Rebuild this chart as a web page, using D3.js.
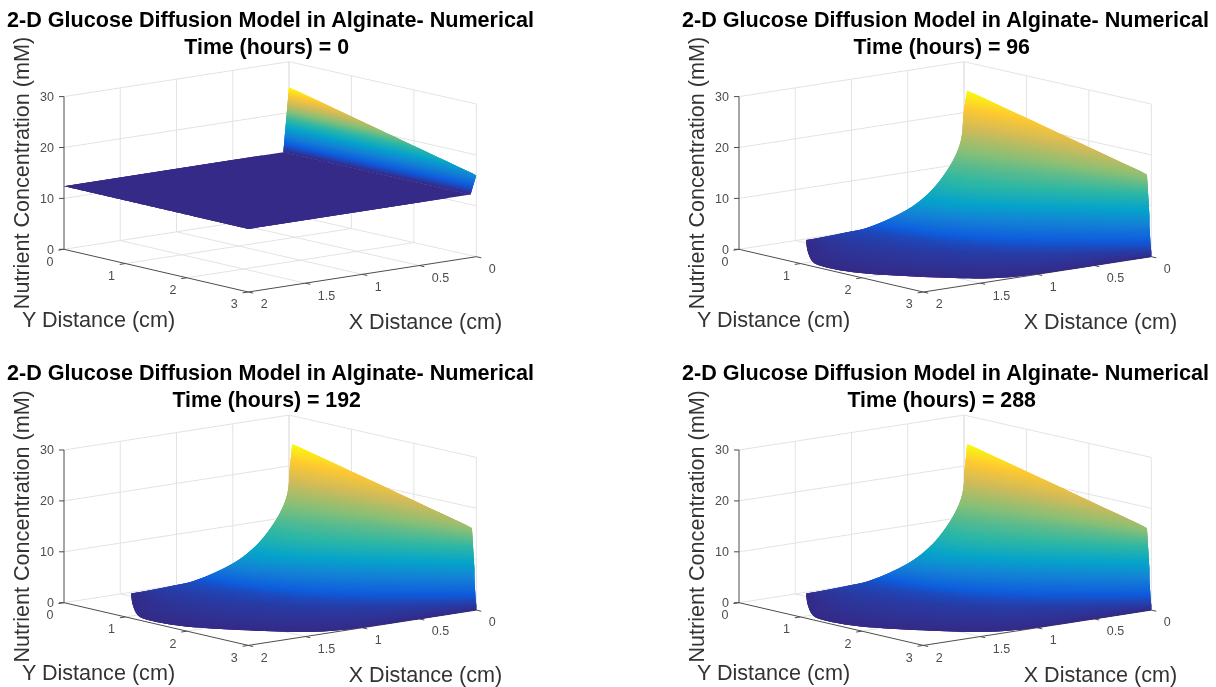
<!DOCTYPE html>
<html>
<head>
<meta charset="utf-8">
<script src="https://cdn.jsdelivr.net/npm/d3@7"></script>
<style>
  html, body { margin: 0; background: #fff; }
  svg { display: block; filter: blur(0.35px); }
  text { font-family: "Liberation Sans", Arial, sans-serif; }
</style>
</head>
<body>
<svg id="chart" width="1216" height="687"></svg>
<script>
const titleText = "2-D Glucose Diffusion Model in Alginate- Numerical";
const hours = [0, 96, 192, 288];

const xTicks = [0, 0.5, 1, 1.5, 2];
const yTicks = [0, 1, 2, 3];
const zTicks = [0, 10, 20, 30];

const parula = ["#352a87", "#0f5cdd", "#1481d6", "#06a4ca", "#2eb7a4", "#87bf77", "#d1bb59", "#fec832", "#f9fb0e"];

// iso-concentration lines read off the surfaces: one level per line,
// then the x and y (cm) of the stations along that line
const levels0 = [25, 23, 21, 19, 17, 16, 15, 14, 13, 12.4, 12.4];
const contourX0 = [
    [0, 0], [0.008, 0], [0.016, 0], [0.024, 0], [0.032, 0], [0.036, 0],
    [0.04, 0.014], [0.044, 0.028], [0.048, 0.042], [0.05, 0.05], [2, 2]
];
const contourY0 = [
    [0, 0], [0, 0.667], [0, 1.333], [0, 2], [0, 2.667], [0, 3],
    [0, 3], [0, 3], [0, 3], [0, 3], [0, 3]
];

const levels96 = [24.5, 22, 20, 18, 16, 14, 12, 10, 8, 6, 4, 2, 1, 0];
const contourX96 = [
    [0, 0], [0.057, 0], [0.108, 0], [0.175, 0], [0.299, 0], [0.498, 0],
    [0.743, 0.754, 0], [0.867, 0.82, 0], [1.0, 0.839, 0], [1.04, 0.858, 0],
    [1.079, 0.924, 0], [1.066, 0.99, 0],
    [1.379, 1.266, 1.104, 0],
    [1.43, 1.58, 1.72, 1.93, 1.96, 1.94, 1.67, 1.46, 1.24, 0.62, 0]
];
const contourY96 = [
    [0.05, 0.05], [0.112, 0.9], [0.178, 1.58], [0.296, 2.25], [0.483, 2.93], [0.721, 2.94],
    [0.972, 1.455, 2.95], [1.018, 1.574, 2.96], [1.019, 1.608, 2.97], [0.85, 1.643, 2.97],
    [0.648, 1.761, 2.98], [0.368, 1.88, 2.99],
    [0.258, 0.824, 2.086, 3],
    [0.05, 0.33, 0.61, 1.06, 1.28, 1.78, 2.35, 2.73, 3, 3, 3]
];

const levels192 = [24.5, 22, 20, 18, 16, 14, 12, 10, 8, 6, 4, 2, 1, 0];
const contourX192 = [
    [0, 0], [0.05, 0], [0.1, 0], [0.166, 0], [0.29, 0], [0.489, 0],
    [0.734, 0.754, 0], [0.858, 0.82, 0], [0.991, 0.839, 0], [1.031, 0.858, 0],
    [1.07, 0.924, 0], [1.06, 0.99, 0],
    [1.375, 1.266, 1.104, 0],
    [1.43, 1.58, 1.72, 1.93, 1.96, 1.94, 1.67, 1.46, 1.24, 0.62, 0]
];
const contourY192 = [
    [0.05, 0.05], [0.12, 0.9], [0.185, 1.58], [0.303, 2.25], [0.49, 2.93], [0.728, 2.94],
    [0.979, 1.455, 2.95], [1.025, 1.574, 2.96], [1.026, 1.608, 2.97], [0.857, 1.643, 2.97],
    [0.655, 1.761, 2.98], [0.375, 1.88, 2.99],
    [0.262, 0.824, 2.086, 3],
    [0.05, 0.33, 0.61, 1.06, 1.28, 1.78, 2.35, 2.73, 3, 3, 3]
];

const levels288 = levels192;
const contourX288 = contourX192;
const contourY288 = contourY192;

const surfaces = [
    { levels: levels0, xs: contourX0, ys: contourY0 },
    { levels: levels96, xs: contourX96, ys: contourY96 },
    { levels: levels192, xs: contourX192, ys: contourY192 },
    { levels: levels288, xs: contourX288, ys: contourY288 }
];

const svg = d3.select("#chart");

// the floor of the box is a slightly skewed quad, so y is scaled along its two long edges
const backToRightX = d3.scaleLinear().domain([0, 3]).range([289, 476.3]);
const backToRightY = d3.scaleLinear().domain([0, 3]).range([214.4, 256.7]);
const leftToFrontX = d3.scaleLinear().domain([0, 3]).range([64, 248.3]);
const leftToFrontY = d3.scaleLinear().domain([0, 3]).range([249.3, 292]);
const zOffset = d3.scaleLinear().domain([0, 30]).range([0, -152.7]);

function project(x, y, z) {
    const px = d3.scaleLinear().domain([0, 2]).range([backToRightX(y), leftToFrontX(y)]);
    const py = d3.scaleLinear().domain([0, 2]).range([backToRightY(y), leftToFrontY(y)]);
    return [px(x), py(x) + zOffset(z)];
}

const pathLine = d3.line();
const colorScale = d3.scaleSequential(d3.piecewise(d3.interpolateRgb, parula));

function segment(group, from, to, color, width) {
    group.append("path")
        .attr("d", pathLine([project(...from), project(...to)]))
        .attr("fill", "none")
        .attr("stroke", color)
        .attr("stroke-width", width);
}

function drawBox(group) {
    const gridColor = "#e3e3e3";
    const axisColor = "#4d4d4d";

    xTicks.forEach(x => {
        if (x !== 0 && x !== 2) segment(group, [x, 0, 0], [x, 3, 0], gridColor, 1);
        if (x !== 2) segment(group, [x, 0, 0], [x, 0, 30], gridColor, 1);
    });
    yTicks.forEach(y => {
        if (y !== 0 && y !== 3) segment(group, [0, y, 0], [2, y, 0], gridColor, 1);
        segment(group, [0, y, 0], [0, y, 30], gridColor, 1);
    });
    zTicks.forEach(z => {
        if (z === 0) return;
        segment(group, [2, 0, z], [0, 0, z], gridColor, 1);
        segment(group, [0, 0, z], [0, 3, z], gridColor, 1);
    });
    segment(group, [0, 0, 0], [2, 0, 0], gridColor, 1);
    segment(group, [0, 0, 0], [0, 3, 0], gridColor, 1);

    segment(group, [2, 0, 0], [2, 0, 30], axisColor, 1);
    segment(group, [2, 0, 0], [2, 3, 0], axisColor, 1);
    segment(group, [2, 3, 0], [0, 3, 0], axisColor, 1);

    zTicks.forEach(z => {
        const p = project(2, 0, z);
        group.append("path").attr("d", pathLine([p, [p[0] - 5, p[1]]])).attr("stroke", axisColor).attr("fill", "none");
        tickLabel(group, z, p[0] - 10, p[1], "end");
    });
    yTicks.forEach(y => {
        segment(group, [2, y, 0], [2.05, y, 0], axisColor, 1);
        const p = project(2, y, 0);
        tickLabel(group, y, p[0] - 14, p[1] + 12, "middle");
    });
    xTicks.forEach(x => {
        segment(group, [x, 3, 0], [x, 3.08, 0], axisColor, 1);
        const p = project(x, 3, 0);
        tickLabel(group, x, p[0] + 12.5, p[1] + 12, "start");
    });
}

function tickLabel(group, value, x, y, anchor) {
    group.append("text")
        .attr("x", x)
        .attr("y", y)
        .attr("dy", "0.35em")
        .attr("text-anchor", anchor)
        .attr("font-size", "12.5px")
        .attr("fill", "#4d4d4d")
        .text(value);
}

// one run of contours. the left half is smoothed across the lines so the silhouette
// stays round, the right half stays straight so the corner of the top edge stays sharp
function drawRun(group, levels, xs, ys) {
    const sampleCount = 64;
    const stripCount = (levels.length - 1) * 10;
    const lastIndex = levels.length - 1;
    const zAt = d3.scaleLinear().domain(levels.map((d, i) => i / lastIndex)).range(levels);

    const lineX = xs.map(d3.interpolateBasis);
    const lineY = ys.map(d3.interpolateBasis);
    const across = values => {
        const smooth = d3.interpolateBasis(values);
        const straight = d3.scaleLinear().domain(values.map((d, i) => i / lastIndex)).range(values);
        return (v, weight) => smooth(v) * (1 - weight) + straight(v) * weight;
    };
    const columns = d3.range(sampleCount + 1).map(k => {
        const u = k / sampleCount;
        return {
            weight: Math.min(1, u * 2),
            xAt: across(lineX.map(f => f(u))),
            yAt: across(lineY.map(f => f(u)))
        };
    });
    const edge = v => columns.map(c => project(c.xAt(v, c.weight), c.yAt(v, c.weight), zAt(v)));

    // each strip reaches under the next one, which paints over it: no seams to show
    d3.range(stripCount).forEach(i => {
        const a = i / stripCount;
        const b = Math.min(1, (i + 3) / stripCount);
        const color = colorScale(zAt((i + 0.5) / stripCount));
        group.append("path")
            .attr("d", pathLine(edge(a).concat(edge(b).reverse())) + "Z")
            .attr("fill", color);
    });
}

// fills the surface from the top level down, so nearer bands cover farther ones.
// two equal levels in a row mark a flat part with a hard crease, drawn as its own run
function drawSurface(group, surface) {
    colorScale.domain(d3.extent(surface.levels));
    const crease = surface.levels.findIndex((level, i) => level === surface.levels[i + 1]);
    if (crease < 0) {
        drawRun(group, surface.levels, surface.xs, surface.ys);
        return;
    }
    drawRun(group, surface.levels.slice(crease), surface.xs.slice(crease), surface.ys.slice(crease));
    drawRun(group, surface.levels.slice(0, crease + 1), surface.xs.slice(0, crease + 1), surface.ys.slice(0, crease + 1));
}

function drawLabels(group, hour) {
    group.append("text").attr("x", 270.5).attr("y", 27).attr("text-anchor", "middle")
        .attr("font-size", "21.6px").attr("font-weight", "bold").attr("fill", "#000").text(titleText);
    group.append("text").attr("x", 266.7).attr("y", 53.5).attr("text-anchor", "middle")
        .attr("font-size", "21.3px").attr("font-weight", "bold").attr("fill", "#000").text("Time (hours) = " + hour);

    group.append("text").attr("transform", "translate(29,173) rotate(-90)").attr("text-anchor", "middle")
        .attr("font-size", "21.6px").attr("fill", "#333").text("Nutrient Concentration (mM)");
    group.append("text").attr("x", 98.5).attr("y", 327).attr("text-anchor", "middle")
        .attr("font-size", "21.6px").attr("fill", "#333").text("Y Distance (cm)");
    group.append("text").attr("x", 425.5).attr("y", 329).attr("text-anchor", "middle")
        .attr("font-size", "21.6px").attr("fill", "#333").text("X Distance (cm)");
}

const panelLeft = d3.scaleOrdinal().domain(hours).range([0, 675, 0, 675]);
const panelTop = d3.scaleOrdinal().domain(hours).range([0, 0, 353.4, 353.4]);

hours.forEach((hour, i) => {
    const panel = svg.append("g").attr("transform", `translate(${panelLeft(hour)},${panelTop(hour)})`);
    drawBox(panel);
    drawSurface(panel, surfaces[i]);
    drawLabels(panel, hour);
});
</script>
</body>
</html>
